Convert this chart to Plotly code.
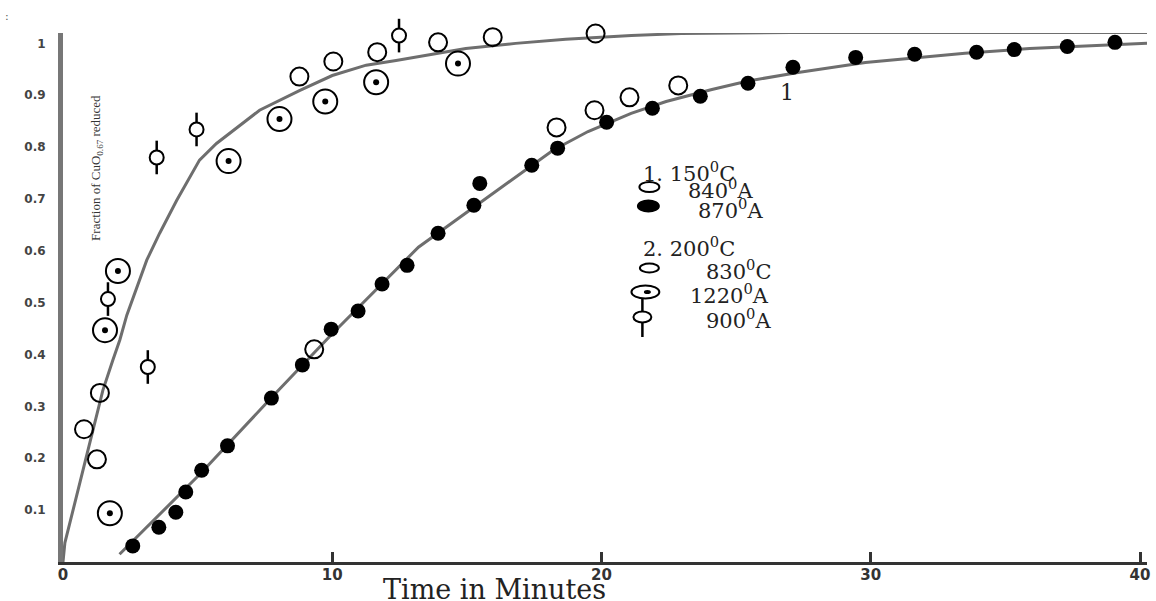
import plotly.graph_objects as go

# ---------------- data ----------------
# Series names
series_150 = ["840<sup>0</sup>A", "870<sup>0</sup>A"]
series_200 = ["830<sup>0</sup>C", "1220<sup>0</sup>A", "900<sup>0</sup>A"]

# 150 C, 840 A (open circles)
x_840 = [9.33, 18.33, 19.74, 21.04, 22.85]
y_840 = [0.410, 0.838, 0.871, 0.896, 0.919]

# 150 C, 870 A (filled circles)
x_870 = [2.59, 3.56, 4.19, 4.56, 5.15, 6.11, 7.74, 8.89, 9.96, 10.96, 11.85,
         12.78, 13.93, 15.26, 15.48, 17.41, 18.37, 20.19, 21.89, 23.67, 25.44,
         27.11, 29.44, 31.63, 33.93, 35.33, 37.30, 39.07]
y_870 = [0.031, 0.067, 0.096, 0.135, 0.177, 0.224, 0.316, 0.380, 0.449, 0.484,
         0.536, 0.572, 0.634, 0.688, 0.730, 0.765, 0.798, 0.848, 0.875, 0.898,
         0.923, 0.954, 0.973, 0.979, 0.983, 0.988, 0.994, 1.002]

# 200 C, 830 C (open circles)
x_830 = [0.78, 1.26, 1.37, 8.78, 10.04, 11.67, 13.93, 15.96, 17.78, 19.78, 21.96, 28.0]
y_830 = [0.256, 0.198, 0.326, 0.936, 0.965, 0.983, 1.002, 1.012, 1.027, 1.019, 1.027, 1.023]

# 200 C, 1220 A (circle with dot)
x_1220 = [1.74, 1.56, 2.04, 6.15, 8.04, 9.74, 11.63, 14.67, 36.07, 39.04]
y_1220 = [0.094, 0.447, 0.561, 0.773, 0.854, 0.888, 0.925, 0.961, 1.042, 1.039]

# 200 C, 900 A (circle with vertical bar)
x_900 = [1.67, 3.15, 3.48, 4.96, 12.48, 31.48]
y_900 = [0.507, 0.376, 0.780, 0.834, 1.015, 1.048]

# Drawn curve 1 (150 C)
x_curve1 = [2.1, 5.1, 7.8, 10.0, 13.2, 15.7, 18.2, 19.5, 21.1, 22.4, 24.1, 25.4,
            27.3, 29.8, 33.5, 35.9, 38.4, 40.26]
y_curve1 = [0.015, 0.17, 0.32, 0.44, 0.607, 0.70, 0.794, 0.83, 0.865, 0.888, 0.911,
            0.927, 0.944, 0.963, 0.981, 0.990, 0.996, 1.0]

# Drawn curve 2 (200 C)
x_curve2 = [0, 0.07, 0.44, 0.81, 1.19, 1.48, 1.85, 2.11, 2.37, 2.74, 3.11, 3.59,
            4.22, 5.07, 5.70, 7.30, 8.78, 10.0, 11.26, 12.37, 14.96, 16.81, 18.67,
            21.11, 22.96, 27.04, 40.26]
y_curve2 = [0, 0.037, 0.114, 0.191, 0.274, 0.331, 0.389, 0.428, 0.476, 0.530, 0.582,
            0.634, 0.697, 0.775, 0.807, 0.871, 0.909, 0.938, 0.958, 0.967, 0.990,
            1.0, 1.008, 1.015, 1.019, 1.021, 1.021]

x_ticks = [0, 10, 20, 30, 40]
y_ticks = [0.1, 0.2, 0.3, 0.4, 0.5, 0.6, 0.7, 0.8, 0.9, 1.0]
y_ticktext = ["0.1", "0.2", "0.3", "0.4", "0.5", "0.6", "0.7", "0.8", "0.9", "1"]

# ---------------- figure ----------------
W, H = 1156, 601
ML, MR, MT, MB = 63, 6, 33, 39
PW, PH = W - ML - MR, H - MT - MB


def px(x):
    return (x - ML) / PW


def py(y):
    return (H - MB - y) / PH


LINE_COL = "#6e6e6e"
fig = go.Figure()

fig.add_trace(go.Scatter(x=x_curve1, y=y_curve1, mode="lines",
                         line=dict(color=LINE_COL, width=3), showlegend=False))
fig.add_trace(go.Scatter(x=x_curve2, y=y_curve2, mode="lines",
                         line=dict(color=LINE_COL, width=3), showlegend=False))

fig.add_trace(go.Scatter(x=x_840, y=y_840, mode="markers", name="840A",
                         marker=dict(symbol="circle-open", size=18, color="black",
                                     line=dict(width=2)),
                         cliponaxis=False, showlegend=False))
fig.add_trace(go.Scatter(x=x_870, y=y_870, mode="markers", name="870A",
                         marker=dict(symbol="circle", size=15, color="black"),
                         cliponaxis=False, showlegend=False))
fig.add_trace(go.Scatter(x=x_830, y=y_830, mode="markers", name="830C",
                         marker=dict(symbol="circle-open", size=18, color="black",
                                     line=dict(width=2)),
                         cliponaxis=False, showlegend=False))
fig.add_trace(go.Scatter(x=x_1220, y=y_1220, mode="markers", name="1220A",
                         marker=dict(symbol="circle-open", size=24, color="black",
                                     line=dict(width=2)),
                         cliponaxis=False, showlegend=False))
fig.add_trace(go.Scatter(x=x_1220, y=y_1220, mode="markers", name="1220A dot",
                         marker=dict(symbol="circle", size=6, color="black"),
                         cliponaxis=False, showlegend=False))
fig.add_trace(go.Scatter(x=x_900, y=y_900, mode="markers", name="900A bar",
                         marker=dict(symbol="line-ns-open", size=24, color="black",
                                     line=dict(width=2.5)),
                         cliponaxis=False, showlegend=False))
fig.add_trace(go.Scatter(x=x_900, y=y_900, mode="markers", name="900A",
                         marker=dict(symbol="circle", size=14, color="white",
                                     line=dict(width=2, color="black")),
                         cliponaxis=False, showlegend=False))

# ---------------- legend (drawn by hand like the original) ----------------
SERIF = "DejaVu Serif"
LEG_SIZE = 21
annotations = []
shapes = []


def leg_text(text, x, y, size=LEG_SIZE):
    annotations.append(dict(text=text, x=px(x), y=py(y), xref="paper", yref="paper",
                            xanchor="left", yanchor="middle", showarrow=False,
                            font=dict(family=SERIF, size=size, color="#222")))


def ellipse(x, y, w, h, fill=None, lw=2):
    shapes.append(dict(type="circle", xref="paper", yref="paper",
                       x0=px(x - w / 2), x1=px(x + w / 2),
                       y0=py(y + h / 2), y1=py(y - h / 2),
                       line=dict(color="black", width=lw),
                       fillcolor=fill if fill else "rgba(0,0,0,0)"))


def vseg(x, ya, yb):
    shapes.append(dict(type="line", xref="paper", yref="paper",
                       x0=px(x), x1=px(x), y0=py(ya), y1=py(yb),
                       line=dict(color="black", width=2.5)))


leg_text("1. 150<sup>0</sup>C", 643, 172)
ellipse(651, 187, 20, 10)
leg_text(series_150[0], 688, 189)
ellipse(650, 206, 21, 11, fill="black")
leg_text(series_150[1], 698, 209)
leg_text("2. 200<sup>0</sup>C", 643, 247)
ellipse(651, 268, 19, 9)
leg_text(series_200[0], 706, 270)
ellipse(647, 292, 28, 13)
ellipse(649, 292, 7, 4, fill="black", lw=0)
leg_text(series_200[1], 690, 294)
vseg(644, 299, 337)
ellipse(644, 317, 18, 11, fill="white")
leg_text(series_200[2], 706, 319)

# curve label
annotations.append(dict(text="1", x=26.9, y=0.906, xref="x", yref="y",
                        showarrow=False, font=dict(family=SERIF, size=22, color="#222")))

# axis titles
annotations.append(dict(text="Time in Minutes", x=px(496), y=py(607), xref="paper",
                        yref="paper", xanchor="center", yanchor="bottom", showarrow=False,
                        font=dict(family=SERIF, size=27, color="#222")))
annotations.append(dict(text="Fraction of CuO<sub>0.67</sub> reduced", x=px(96),
                        y=py(168), xref="paper", yref="paper", xanchor="center",
                        yanchor="middle", textangle=-90, showarrow=False,
                        font=dict(family="Liberation Serif", size=13, color="#333")))
# cropped caption remnants at the top-left
annotations.append(dict(text=":", x=px(3), y=py(17), xref="paper", yref="paper",
                        xanchor="left", yanchor="middle", showarrow=False,
                        font=dict(family="DejaVu Sans", size=11, color="#555")))

fig.update_layout(
    width=W, height=H,
    margin=dict(l=ML, r=MR, t=MT, b=MB, pad=0),
    plot_bgcolor="white", paper_bgcolor="white",
    showlegend=False,
    xaxis=dict(range=[0, 40.26], showgrid=False, zeroline=False,
               showline=True, linecolor="#333", linewidth=3,
               ticks="inside", ticklen=10, tickwidth=3, tickcolor="#333",
               tickvals=x_ticks, ticktext=[str(v) for v in x_ticks],
               ticklabelstandoff=-3,
               tickfont=dict(family="DejaVu Sans", size=15, color="#333", weight="bold")),
    yaxis=dict(range=[0, 1.02], showgrid=False, zeroline=False,
               showline=True, linecolor="#777", linewidth=5,
               ticks="", tickvals=y_ticks, ticktext=y_ticktext,
               ticklabelstandoff=10,
               tickfont=dict(family="DejaVu Sans", size=12, color="#444", weight="bold")),
    annotations=annotations,
    shapes=shapes,
)

fig.write_html("out.html")
